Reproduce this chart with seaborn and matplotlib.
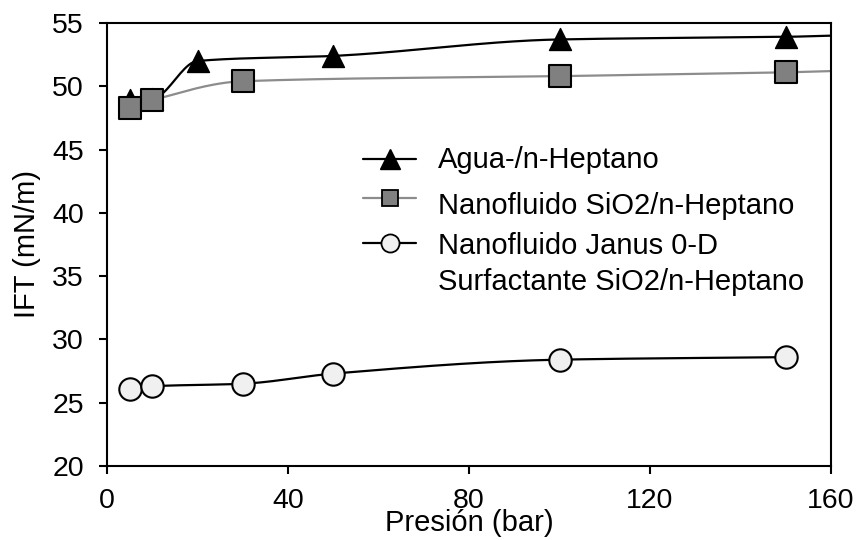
import numpy as np
import pandas as pd
import matplotlib
matplotlib.use("Agg")
import matplotlib.pyplot as plt
import seaborn as sns
from matplotlib.lines import Line2D

# ---- data ----
agua_p = [5, 10, 20, 50, 100, 150]
agua_ift = [48.9, 49.0, 52.0, 52.4, 53.7, 53.9]
nano_p = [5, 10, 30, 100, 150]
nano_ift = [48.3, 48.9, 50.4, 50.8, 51.1]
janus_p = [5, 10, 30, 50, 100, 150]
janus_ift = [26.1, 26.3, 26.5, 27.3, 28.4, 28.6]
labels = ["Agua-/n-Heptano", "Nanofluido SiO2/n-Heptano",
          "Nanofluido Janus 0-D\nSurfactante SiO2/n-Heptano"]
x_ticks = [0, 40, 80, 120, 160]
y_ticks = [20, 25, 30, 35, 40, 45, 50, 55]


def pchip(x, y, xs):
    x = np.asarray(x, float); y = np.asarray(y, float)
    h = np.diff(x); d = np.diff(y) / h
    n = len(x); m = np.zeros(n)
    for k in range(1, n - 1):
        if d[k - 1] * d[k] > 0:
            w1 = 2 * h[k] + h[k - 1]; w2 = h[k] + 2 * h[k - 1]
            m[k] = (w1 + w2) / (w1 / d[k - 1] + w2 / d[k])
    m[0] = d[0]; m[-1] = d[-1]
    out = np.empty_like(xs)
    for i, xv in enumerate(xs):
        k = min(max(np.searchsorted(x, xv) - 1, 0), n - 2)
        t = (xv - x[k]) / h[k]
        h00 = 2*t**3 - 3*t**2 + 1; h10 = t**3 - 2*t**2 + t
        h01 = -2*t**3 + 3*t**2; h11 = t**3 - t**2
        out[i] = h00*y[k] + h10*h[k]*m[k] + h01*y[k+1] + h11*h[k]*m[k+1]
    return out


def smooth(x, y, end=None, end_slope=0.0):
    xs = np.linspace(x[0], x[-1], 300)
    ys = pchip(x, y, xs)
    if end is not None:
        xe = np.linspace(x[-1], end, 30)
        xs = np.concatenate([xs, xe])
        ys = np.concatenate([ys, y[-1] + end_slope * (xe - x[-1])])
    return xs, ys


sns.set_style("ticks")
plt.rcParams['font.family'] = ['Liberation Sans', 'DejaVu Sans']
plt.rcParams['text.color'] = 'black'
plt.rcParams['axes.labelcolor'] = 'black'
plt.rcParams['xtick.color'] = 'black'
plt.rcParams['ytick.color'] = 'black'
fig = plt.figure(figsize=(8.58, 5.40), dpi=100)
ax = fig.add_axes([107/858, 1-466/540, (831-107)/858, (466-23)/540])

BLACK = "black"; GRAY = "#8c8c8c"
LW = 1.6

xs, ys = smooth(agua_p, agua_ift, end=160, end_slope=0.01)
sns.lineplot(x=xs, y=ys, ax=ax, color=BLACK, lw=LW, sort=False, estimator=None)
xs, ys = smooth(nano_p, nano_ift, end=160, end_slope=0.01)
sns.lineplot(x=xs, y=ys, ax=ax, color=GRAY, lw=LW, sort=False, estimator=None)
xs, ys = smooth(janus_p, janus_ift)
sns.lineplot(x=xs, y=ys, ax=ax, color=BLACK, lw=LW, sort=False, estimator=None)

sns.scatterplot(x=agua_p, y=agua_ift, ax=ax, marker="^", s=250, color="black",
                edgecolor="black", linewidth=1, zorder=5)
sns.scatterplot(x=nano_p, y=nano_ift, ax=ax, marker="s", s=240, color="#808080",
                edgecolor="black", linewidth=1.5, zorder=6)
sns.scatterplot(x=janus_p, y=janus_ift, ax=ax, marker="o", s=260, color="#f0f0f0",
                edgecolor="black", linewidth=1.5, zorder=6)

# ---- legend drawn manually in axes coordinates ----
H = 443.0
def fy(px):
    return (466 - px) / H
def fx(px):
    return (px - 107) / 724.0

styles = [
    dict(color=BLACK, marker="^", markersize=14, mfc="black", mec="black", mew=1),
    dict(color=GRAY, marker="s", markersize=12, mfc="#808080", mec="black", mew=1.3),
    dict(color=BLACK, marker="o", markersize=13, mfc="#f0f0f0", mec="black", mew=1.3),
]
line_y = [159, 198, 243]
text_base = [168, 214, 254]
for lab, st, ly, tb in zip(labels, styles, line_y, text_base):
    ax.add_line(Line2D([fx(363), fx(416)], [fy(ly), fy(ly)], transform=ax.transAxes,
                       color=st["color"], lw=LW, clip_on=False, zorder=7))
    ax.add_line(Line2D([fx(390)], [fy(ly)], transform=ax.transAxes, lw=0,
                       marker=st["marker"], markersize=st["markersize"],
                       markerfacecolor=st["mfc"], markeredgecolor=st["mec"],
                       markeredgewidth=st["mew"], clip_on=False, zorder=8))
    for j, part in enumerate(lab.split("\n")):
        ax.text(fx(438), fy(tb + 36 * j), part, transform=ax.transAxes,
                fontsize=21, va="baseline", ha="left", color="black")

ax.set_xlim(0, 160)
ax.set_ylim(20, 55)
ax.set_xticks(x_ticks)
ax.set_yticks(y_ticks)
ax.tick_params(labelsize=20.5, direction="out", length=5.5, width=1.5,
               color="black", labelcolor="black")
ax.tick_params(axis="x", pad=10)
ax.tick_params(axis="y", pad=11)
for s in ax.spines.values():
    s.set_linewidth(1.5)
    s.set_color("black")
ax.set_xlabel("Presión (bar)", fontsize=21, labelpad=-3, color="black")
ax.set_ylabel("IFT (mN/m)", fontsize=21, labelpad=8, color="black")
fig.savefig("out.png", dpi=100)
